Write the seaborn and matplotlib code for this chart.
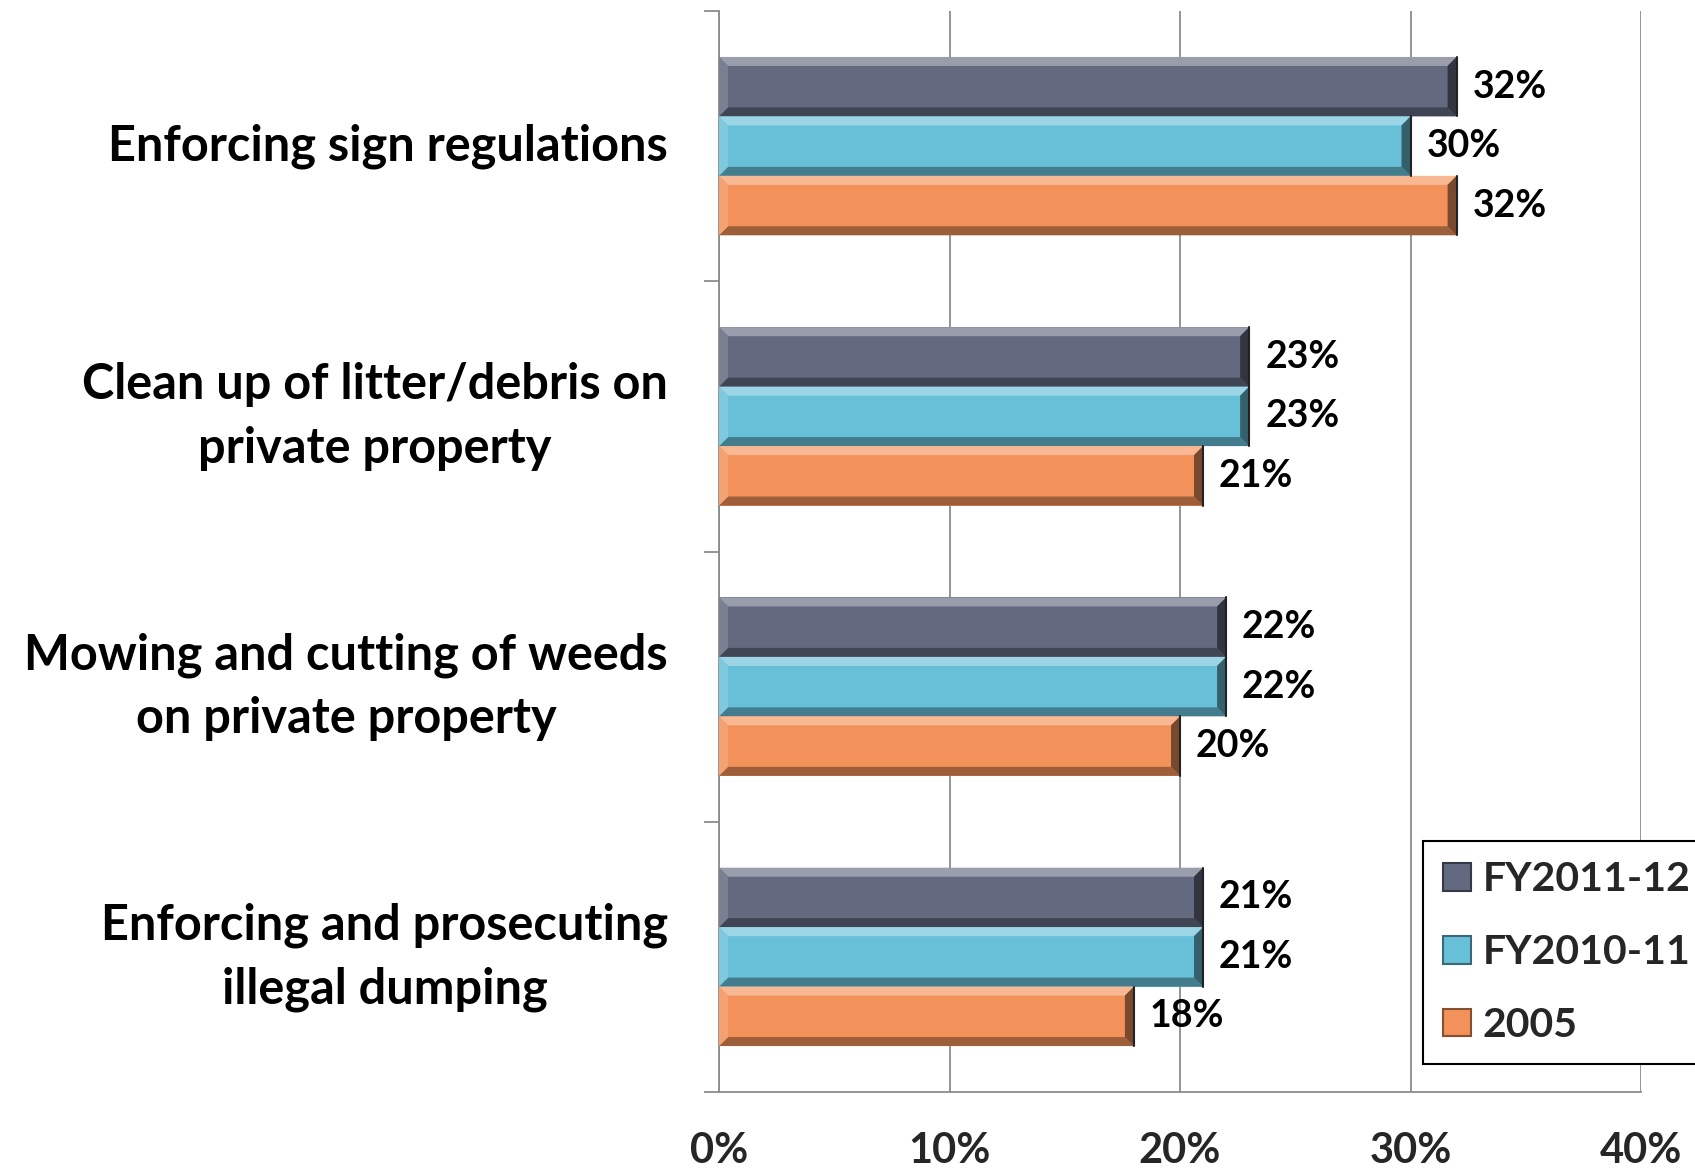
import numpy as np
import pandas as pd
import matplotlib
matplotlib.use("Agg")
import matplotlib.pyplot as plt
import matplotlib.transforms as mtransforms
from matplotlib.patches import Polygon, Rectangle
from matplotlib.colors import to_rgb
from matplotlib.ticker import FixedLocator, PercentFormatter
import seaborn as sns

# ---- data -------------------------------------------------------------
categories = [
    "Enforcing sign regulations",
    "Clean up of litter/debris on\nprivate property",
    "Mowing and cutting of weeds\non private property",
    "Enforcing and prosecuting\nillegal dumping",
]
series_names = ["FY2011-12", "FY2010-11", "2005"]
fy2011_12 = [0.32, 0.23, 0.22, 0.21]
fy2010_11 = [0.30, 0.23, 0.22, 0.21]
y2005 = [0.32, 0.21, 0.20, 0.18]
x_ticks = [0.0, 0.1, 0.2, 0.3, 0.4]

colors = ["#636a7f", "#67bfd8", "#f29159"]

rows = []
for name, vals in zip(series_names, [fy2011_12, fy2010_11, y2005]):
    for cat, v in zip(categories, vals):
        rows.append({"category": cat, "series": name, "value": v})
df = pd.DataFrame(rows)

# ---- figure -------------------------------------------------------------
sns.set_theme(style="white")
plt.rcParams["font.family"] = ["Lato", "DejaVu Sans"]
plt.rcParams["font.weight"] = "bold"

W, H = 1695, 1173
fig = plt.figure(figsize=(W / 100, H / 100), dpi=100)
ax = fig.add_axes([719 / W, 1 - 1092 / H, (1641 - 719) / W, (1092 - 11) / H])

sns.barplot(
    data=df, y="category", x="value", hue="series",
    order=categories, hue_order=series_names, palette=colors,
    orient="h", width=0.66, gap=0, saturation=1, errorbar=None,
    linewidth=0, ax=ax, legend=False,
)

ax.set_xlim(0, 0.4)
ax.set_ylim(len(categories) - 0.5, -0.5)

# ---- bevelled bar faces -----------------------------------------------
def shade(c, f):
    r, g, b = to_rgb(c)
    if f > 0:
        return (r + (1 - r) * f, g + (1 - g) * f, b + (1 - b) * f)
    return (r * (1 + f), g * (1 + f), b * (1 + f))

fig.canvas.draw()
inv = ax.transData.inverted()
p0 = inv.transform((0, 0))
p1 = inv.transform((9, 9))
dx = abs(p1[0] - p0[0])
dy = abs(p1[1] - p0[1])

bars = list(ax.patches)
for bar in bars:
    x, y = bar.get_x(), bar.get_y()
    w, h = bar.get_width(), bar.get_height()
    c = bar.get_facecolor()
    # top (visually) highlight band
    ax.add_patch(Polygon([(x, y), (x + w, y), (x + w - dx, y + dy), (x + dx, y + dy)],
                         closed=True, facecolor=shade(c, 0.35), edgecolor="none", zorder=3))
    # bottom shadow band
    ax.add_patch(Polygon([(x, y + h), (x + w, y + h), (x + w - dx, y + h - dy), (x + dx, y + h - dy)],
                         closed=True, facecolor=shade(c, -0.35), edgecolor="none", zorder=3))
    # left light band
    ax.add_patch(Polygon([(x, y), (x + dx, y + dy), (x + dx, y + h - dy), (x, y + h)],
                         closed=True, facecolor=shade(c, 0.15), edgecolor="none", zorder=3))
    # right dark band
    ax.add_patch(Polygon([(x + w, y), (x + w - dx, y + dy), (x + w - dx, y + h - dy), (x + w, y + h)],
                         closed=True, facecolor=shade(c, -0.5), edgecolor="none", zorder=3))
    ax.plot([x + w, x + w], [y, y + h], color="#222222", lw=1.5, zorder=4)

# ---- value labels ------------------------------------------------------
for bar in bars:
    v = bar.get_width()
    ax.annotate(f"{v * 100:.0f}%", (v, bar.get_y() + bar.get_height() / 2),
                xytext=(16, 0), textcoords="offset pixels",
                ha="left", va="center", fontsize=27, fontweight="bold", color="black")

# ---- axes styling ------------------------------------------------------
ax.xaxis.set_major_locator(FixedLocator(x_ticks))
ax.xaxis.set_major_formatter(PercentFormatter(1.0, decimals=0))
ax.grid(axis="x", color="#8c8c8c", lw=1.3, zorder=0)
ax.set_axisbelow(True)
for s in ["top", "right"]:
    ax.spines[s].set_visible(False)
for s in ["left", "bottom"]:
    ax.spines[s].set_color("#8c8c8c")
    ax.spines[s].set_linewidth(1.3)

ax.tick_params(axis="x", which="major", direction="out", length=11, width=1.3,
               color="#8c8c8c", pad=18, labelsize=30)
for lab in ax.get_xticklabels():
    lab.set_fontweight("bold")

# category labels, right-aligned left of the axis, lines centred
ax.set_yticks(range(len(categories)))
ax.set_yticklabels([])
ax.yaxis.set_minor_locator(FixedLocator(np.arange(-0.5, len(categories), 1.0)))
ax.tick_params(axis="y", which="major", length=0)
ax.tick_params(axis="y", which="minor", direction="out", length=11, width=1.3,
               color="#8c8c8c", left=True)
shift = mtransforms.ScaledTranslation(-51 / 100, 0, fig.dpi_scale_trans)
for i, cat in enumerate(categories):
    ax.text(0, i, cat, transform=ax.get_yaxis_transform() + shift,
            ha="right", va="center", multialignment="center", linespacing=1.5,
            fontsize=35, fontweight="bold", color="black")

ax.set_xlabel("")
ax.set_ylabel("")

# ---- legend -------------------------------------------------------------
handles = [Rectangle((0, 0), 1, 1, facecolor=c, edgecolor=shade(c, -0.45), lw=1.5)
           for c in colors]
leg = fig.legend(handles, series_names, loc="upper left",
                 bbox_to_anchor=(1423 / W, 1 - 841 / H),
                 frameon=True, fancybox=False, edgecolor="black", framealpha=1,
                 prop={"size": 29.5, "weight": "bold"},
                 handlelength=0.66, handleheight=0.66, handletextpad=0.3,
                 labelspacing=0.87, borderpad=0.5, borderaxespad=0)
leg.get_frame().set_linewidth(1.5)

fig.savefig("out.png", dpi=100)
